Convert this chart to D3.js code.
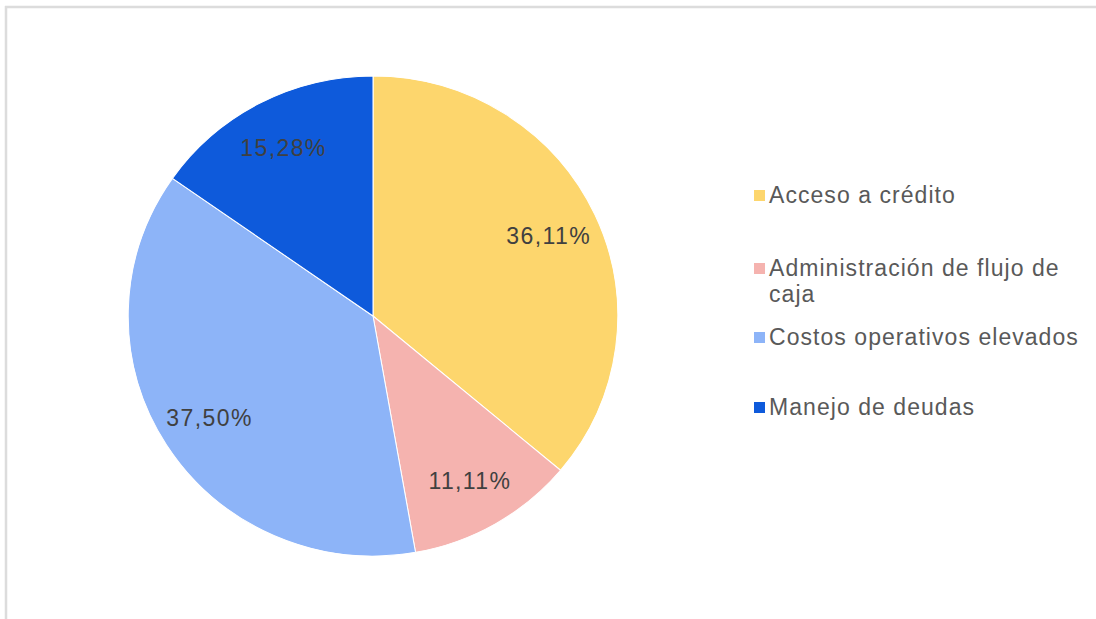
<!DOCTYPE html>
<html>
<head>
<meta charset="utf-8">
<script src="https://cdn.jsdelivr.net/npm/d3@7"></script>
<style>
  html, body { margin: 0; padding: 0; background: #fff; }
  svg { display: block; }
  text { font-family: "Liberation Sans", Arial, sans-serif; }
</style>
</head>
<body>
<svg id="chart" width="1096" height="619"></svg>
<script>
// ---- data ----
const categories = [
  "Acceso a crédito",
  "Administración de flujo de caja",
  "Costos operativos elevados",
  "Manejo de deudas"
];
const legendLines = [
  ["Acceso a crédito"],
  ["Administración de flujo de", "caja"],
  ["Costos operativos elevados"],
  ["Manejo de deudas"]
];
const values = [36.11, 11.11, 37.50, 15.28];
const colors = ["#FDD66D", "#F5B3AF", "#8DB4F8", "#0E5ADB"];
const legendBaselines = [203, 276, 345, 415];

// ---- drawing ----
const svg = d3.select("#chart");
const W = 1096, H = 619;

// frame lines (top and left)
svg.append("line").attr("x1", 5).attr("x2", W).attr("y1", 7).attr("y2", 7)
  .attr("stroke", "#dcdcdc").attr("stroke-width", 2.5);
svg.append("line").attr("x1", 6).attr("x2", 6).attr("y1", 6).attr("y2", H)
  .attr("stroke", "#dcdcdc").attr("stroke-width", 2.5);

const cx = 373, cy = 316, r = 240, sx = 1.02;

const pie = d3.pie().sort(null).value(d => d.value);
const data = categories.map((c, i) => ({ cat: c, value: values[i], color: colors[i] }));
const arcs = pie(data);

const arc = d3.arc().innerRadius(0).outerRadius(r);
const labelArc = d3.arc().innerRadius(190).outerRadius(190);

const g = svg.append("g").attr("transform", `translate(${cx},${cy}) scale(${sx},1)`);
g.selectAll("path").data(arcs).join("path")
  .attr("d", arc)
  .attr("fill", d => d.data.color)
  .attr("stroke", "#fff")
  .attr("stroke-width", 1);

const fmt = v => d3.format(".2f")(v).replace(".", ",") + "%";

svg.append("g").selectAll("text").data(arcs).join("text")
  .attr("x", d => cx + labelArc.centroid(d)[0] * sx)
  .attr("y", d => cy + labelArc.centroid(d)[1])
  .attr("dy", "0.36em")
  .attr("text-anchor", "middle")
  .attr("font-size", 23)
  .attr("letter-spacing", 1.4)
  .attr("fill", "#404040")
  .text(d => fmt(d.data.value));

// legend
const lg = svg.append("g");
const items = lg.selectAll("g").data(data).join("g");
items.append("rect")
  .attr("x", 754)
  .attr("y", (d, i) => legendBaselines[i] - 13)
  .attr("width", 11).attr("height", 11)
  .attr("fill", d => d.color);
items.append("text")
  .attr("x", 769)
  .attr("y", (d, i) => legendBaselines[i])
  .attr("font-size", 23)
  .attr("letter-spacing", 1.05)
  .attr("fill", "#595959")
  .each(function(d, i) {
    const t = d3.select(this);
    legendLines[i].forEach((line, k) => {
      t.append("tspan").attr("x", 769).attr("dy", k === 0 ? 0 : 26).text(line);
    });
  });
</script>
</body>
</html>
